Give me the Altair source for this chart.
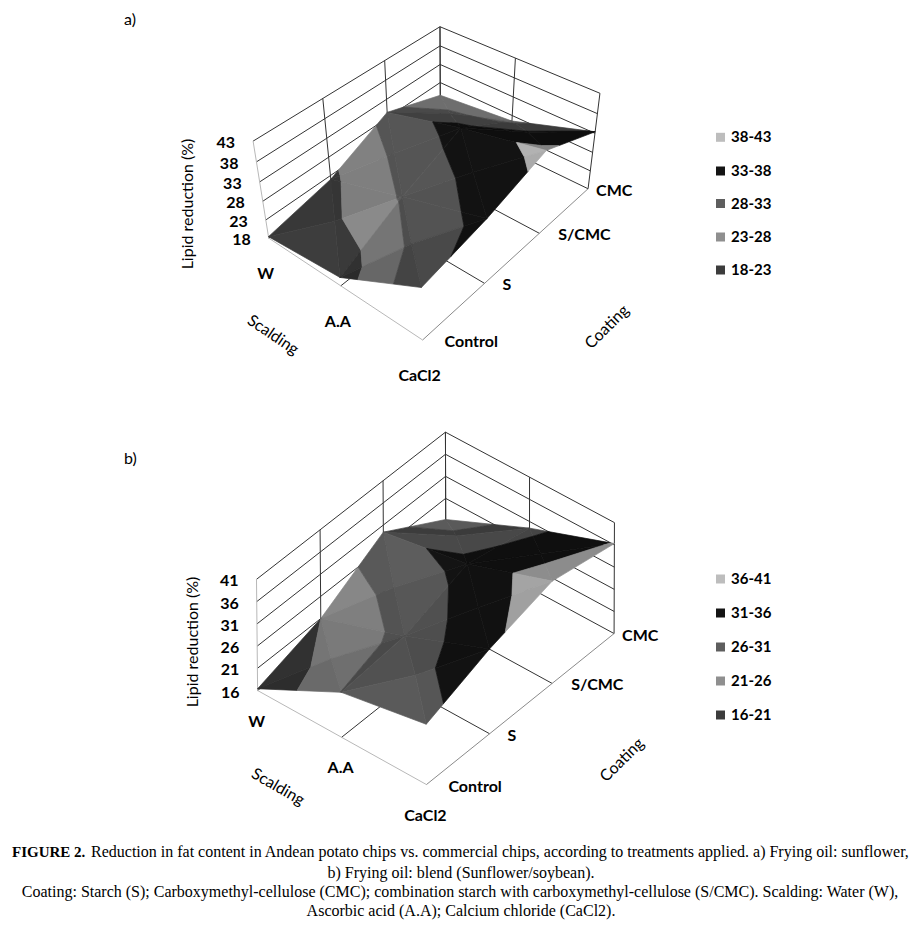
import numpy as np
import pandas as pd
import altair as alt

# ---------------------------------------------------------------- data
scalding = ["W", "A.A", "CaCl2"]
coating = ["Control", "S", "S/CMC", "CMC"]

# a) Frying oil: sunflower  -- lipid reduction (%) per scalding row, coating columns
lipid_a_W = [18.4, 22.0, 29.5, 24.4]
lipid_a_AA = [20.3, 28.5, 35.0, 26.5]
lipid_a_CaCl2 = [31.6, 34.8, 39.5, 33.4]
ticks_a = [18, 23, 28, 33, 38, 43]
bands_a = ["18-23", "23-28", "28-33", "33-38", "38-43"]

# b) Frying oil: blend (Sunflower/soybean)
lipid_b_W = [16.4, 21.0, 29.4, 21.2]
lipid_b_AA = [26.1, 27.5, 32.5, 29.5]
lipid_b_CaCl2 = [29.5, 35.0, 39.0, 36.3]
ticks_b = [16, 21, 26, 31, 36, 41]
bands_b = ["16-21", "21-26", "26-31", "31-36", "36-41"]

band_colors = ["#3c3c3c", "#8f8f8f", "#5e5e5e", "#141414", "#bdbdbd"]  # low -> high

caption_head = "FIGURE 2."
caption_1 = ("Reduction in fat content in Andean potato chips vs. commercial chips, "
             "according to treatments applied.  a) Frying oil: sunflower,")
caption_2 = "b) Frying oil: blend (Sunflower/soybean)."
caption_3 = ("Coating: Starch (S); Carboxymethyl-cellulose (CMC); combination starch with "
             "carboxymethyl-cellulose (S/CMC). Scalding: Water (W),")
caption_4 = "Ascorbic acid (A.A); Calcium chloride (CaCl2)."

# ---------------------------------------------------------------- layout (3-D box anchors in page px)
# (coating index, scalding index, value) -> page position of the box corners / gridlines
anchors_a = [((0, 0, 18), (268.3, 237.3)), ((0, 0, 43), (252.7, 141.7)), ((1, 0, 43), (323.3, 98.0)),
             ((2, 0, 43), (385.0, 60.0)), ((3, 0, 43), (440.0, 26.7)), ((3, 0, 28), (440.0, 83.3)),
             ((3, 1, 43), (515.0, 58.3)), ((3, 2, 43), (600.0, 93.3)), ((3, 2, 18), (589.3, 188.3)),
             ((0, 2, 18), (423.3, 340.0)), ((1, 2, 18), (483.3, 283.3)), ((2, 2, 18), (538.3, 233.3)),
             ((0, 1, 18), (341.7, 286.7))]
anchors_b = [((0, 0, 16), (257.3, 690.0)), ((0, 0, 41), (256.0, 580.0)), ((1, 0, 41), (320.0, 529.7)),
             ((2, 0, 41), (383.3, 480.0)), ((3, 0, 41), (445.0, 433.5)), ((3, 0, 26), (445.0, 497.5)),
             ((3, 1, 41), (531.7, 478.0)), ((3, 2, 41), (613.3, 521.0)), ((3, 2, 16), (613.3, 633.3)),
             ((0, 2, 16), (425.3, 783.3)), ((1, 2, 16), (490.0, 736.0)), ((2, 2, 16), (553.0, 684.0)),
             ((0, 1, 16), (343.0, 737.0))]

FONT = "Lato"
PROJ = dict(type="identity", scale=1, translate=[-8, -8])


def fit_camera(anchors, zmin):
    W = np.array([[j, i, (z - zmin) / 10.0] for (j, i, z), _ in anchors], float)
    S = np.array([s for _, s in anchors], float)
    sm = S.mean(0)
    ss = np.sqrt(((S - sm) ** 2).sum(1).mean())
    wm = W.mean(0)
    ws = np.sqrt(((W - wm) ** 2).sum(1).mean())
    Sn = (S - sm) / ss
    Wn = (W - wm) / ws
    rows = []
    for (X, Y, Z), (u, v) in zip(Wn, Sn):
        rows.append([X, Y, Z, 1, 0, 0, 0, 0, -u * X, -u * Y, -u * Z, -u])
        rows.append([0, 0, 0, 0, X, Y, Z, 1, -v * X, -v * Y, -v * Z, -v])
    P = np.linalg.svd(np.array(rows))[2][-1].reshape(3, 4)

    def proj(j, i, z):
        p = (np.array([j, i, (z - zmin) / 10.0]) - wm) / ws
        h = P @ np.append(p, 1.0)
        q = sm + ss * h[:2] / h[2]
        return float(q[0]), float(q[1])

    return proj


def clip_band(poly, lo, hi):
    def clip(pts, keep, edge):
        out = []
        n = len(pts)
        for k in range(n):
            A, B = pts[k], pts[(k + 1) % n]
            ia, ib = keep(A[2]), keep(B[2])
            if ia:
                out.append(A)
            if ia != ib:
                t = (edge - A[2]) / (B[2] - A[2])
                out.append(tuple(A[m] + t * (B[m] - A[m]) for m in range(3)))
        return out
    p = clip(poly, lambda z: z >= lo, lo)
    if len(p) < 3:
        return []
    p = clip(p, lambda z: z <= hi, hi)
    return p if len(p) >= 3 else []


LIGHT = np.array([-0.45, 0.55, 1.0])
LIGHT = LIGHT / np.linalg.norm(LIGHT)
SZ = 0.06


def shade(hexcol, tri):
    A, B, C = [np.array([p[0], p[1], p[2] * SZ]) for p in tri]
    n = np.cross(B - A, C - A)
    n = n / np.linalg.norm(n)
    if n[2] < 0:
        n = -n
    f = 1.0 + 0.9 * (float(n @ LIGHT) - LIGHT[2])
    rgb = [int(hexcol[k:k + 2], 16) for k in (1, 3, 5)]
    rgb = [int(max(0, min(255, round(c * f)))) for c in rgb]
    return "#%02x%02x%02x" % tuple(rgb)


def surface_features(rows, ticks, proj):
    zmin = ticks[0]
    g = rows
    tris = []
    for i in range(len(g) - 1):
        for j in range(len(g[0]) - 1):
            c = [(j, i, g[i][j]), (j + 1, i, g[i][j + 1]), (j + 1, i + 1, g[i + 1][j + 1]), (j, i + 1, g[i + 1][j])]
            ctr = (j + 0.5, i + 0.5, float(np.mean([p[2] for p in c])))
            for k in range(4):
                tris.append([c[k], c[(k + 1) % 4], ctr])
    tris.sort(key=lambda t: proj(np.mean([p[0] for p in t]), np.mean([p[1] for p in t]), zmin)[1])
    feats = []
    nb = len(ticks) - 1
    for t in tris:
        for b in range(nb):
            lo = ticks[b] if b > 0 else -1e9
            hi = ticks[b + 1] if b < nb - 1 else 1e9
            poly = clip_band(t, lo, hi)
            if not poly:
                continue
            ring = [[round(x, 2), round(y, 2)] for x, y in (proj(*p) for p in poly)]
            ring.append(ring[0])
            feats.append({"type": "Feature", "properties": {"fill": shade(band_colors[b], t)},
                          "geometry": {"type": "Polygon", "coordinates": [ring]}})
    return feats


def box_features(ticks, proj):
    zmin, zmax = ticks[0], ticks[-1]
    dark, mid, light = "#333333", "#8a8a8a", "#b8b8b8"
    segs = []
    for z in ticks:
        segs.append(((0, 0, z), (3, 0, z), dark))
        segs.append(((3, 0, z), (3, 2, z), dark))
    for j in range(4):
        segs.append(((j, 0, zmin), (j, 0, zmax), light if j == 0 else dark))
    for i in range(3):
        segs.append(((3, i, zmin), (3, i, zmax), dark))
    segs.append(((0, 1, zmin), (3, 1, zmin), dark))
    segs.append(((1, 0, zmin), (1, 2, zmin), dark))
    segs.append(((2, 0, zmin), (2, 2, zmin), dark))
    segs.append(((0, 0, zmin), (0, 2, zmin), light))
    segs.append(((0, 2, zmin), (3, 2, zmin), mid))
    feats = []
    for a, b, col in segs:
        pa, pb = proj(*a), proj(*b)
        feats.append({"type": "Feature", "properties": {"stroke": col, "width": 1.0},
                      "geometry": {"type": "LineString",
                                   "coordinates": [[round(pa[0], 2), round(pa[1], 2)],
                                                   [round(pb[0], 2), round(pb[1], 2)]]}})
    return feats


def line_layer(feats):
    return alt.Chart(alt.Data(values=feats)).mark_geoshape(filled=False).encode(
        stroke=alt.Stroke("properties.stroke:N", scale=None),
        strokeWidth=alt.StrokeWidth("properties.width:Q", scale=None),
    ).project(**PROJ)


def poly_layer(feats):
    return alt.Chart(alt.Data(values=feats)).mark_geoshape(strokeWidth=0.7, strokeJoin="round").encode(
        fill=alt.Fill("properties.fill:N", scale=None),
        stroke=alt.Stroke("properties.fill:N", scale=None),
    ).project(**PROJ)


def text_layer(records, **kw):
    df = pd.DataFrame(records, columns=["x", "y", "t"])
    return alt.Chart(df).mark_text(**kw).encode(
        longitude="x:Q", latitude="y:Q", text="t:N").project(**PROJ)


COAT_DX = [22, 18, 19, 8]


def panel(rows, ticks, bands, anchors, cfg):
    proj = fit_camera(anchors, ticks[0])
    zmin = ticks[0]
    layers = [line_layer(box_features(ticks, proj)), poly_layer(surface_features(rows, ticks, proj))]
    # value tick labels
    tl = []
    for z in ticks:
        x, y = proj(0, 0, z)
        tl.append((x - 18, y + 2, str(z)))
    layers.append(text_layer(tl, font=FONT, fontSize=16, fontWeight="bold", align="right",
                             baseline="middle", color="black"))
    # category labels
    cl = []
    for i, s in enumerate(scalding):
        x, y = proj(0, i, zmin)
        cl.append((x + cfg["sdx"], y + cfg["sdy"], s))
    layers.append(text_layer(cl, font=FONT, fontSize=16, fontWeight="bold", align="center",
                             baseline="middle", color="black"))
    ql = []
    for j, c in enumerate(coating):
        x, y = proj(j, 2, zmin)
        ql.append((x + COAT_DX[j], y + 2, c))
    layers.append(text_layer(ql, font=FONT, fontSize=16, fontWeight="bold", align="left",
                             baseline="middle", color="black"))
    # axis titles
    layers.append(text_layer([cfg["ztitle"]], font=FONT, fontSize=16, angle=270, align="center",
                             baseline="middle", color="black"))
    layers.append(text_layer([cfg["stitle"]], font=FONT, fontSize=16, angle=cfg["sang"], align="center",
                             baseline="middle", color="black"))
    layers.append(text_layer([cfg["ctitle"]], font=FONT, fontSize=16, angle=315, align="center",
                             baseline="middle", color="black"))
    layers.append(text_layer([cfg["tag"]], font=FONT, fontSize=16, align="left",
                             baseline="middle", color="black"))
    # legend (highest band on top)
    ly = cfg["legend_y"]
    leg = pd.DataFrame({"x": [720.5] * 5, "y": ly, "c": band_colors[::-1]})
    layers.append(alt.Chart(leg).mark_square(size=81, opacity=1).encode(
        longitude="x:Q", latitude="y:Q", color=alt.Color("c:N", scale=None)).project(**PROJ))
    layers.append(text_layer([(731, y, b) for y, b in zip(ly, bands[::-1])], font=FONT, fontSize=15,
                             fontWeight="bold", align="left", baseline="middle", color="black"))
    return layers


cfg_a = dict(sdx=-3, sdy=36, sang=34,
             ztitle=(188, 204, "Lipid  reduction (%)"),
             stitle=(273, 335, "Scalding"), ctitle=(607, 327, "Coating"),
             tag=(124, 20, "a)"), legend_y=[137.3, 171.0, 203.5, 237.0, 270.0])
cfg_b = dict(sdx=-1, sdy=31, sang=30,
             ztitle=(193, 642, "Lipid reduction (%)"),
             stitle=(278, 787, "Scalding"), ctitle=(622, 760, "Coating"),
             tag=(124, 459, "b)"), legend_y=[579.0, 613.0, 647.0, 681.0, 715.0])

layers = []
layers += panel([lipid_a_W, lipid_a_AA, lipid_a_CaCl2], ticks_a, bands_a, anchors_a, cfg_a)
layers += panel([lipid_b_W, lipid_b_AA, lipid_b_CaCl2], ticks_b, bands_b, anchors_b, cfg_b)

SERIF = "Liberation Serif"
layers.append(text_layer([(12, 852, caption_head)], font=SERIF, fontSize=15, fontWeight="bold",
                         align="left", baseline="middle", color="black"))
layers.append(text_layer([(91, 852, caption_1)], font=SERIF, fontSize=16,
                         align="left", baseline="middle", color="black"))
layers.append(text_layer([(461, 873, caption_2), (460, 892, caption_3), (461, 911, caption_4)],
                         font=SERIF, fontSize=16, align="center", baseline="middle", color="black"))

chart = alt.layer(*layers).properties(
    width=902, height=922, padding=0,
    autosize=alt.AutoSizeParams(type="none"), background="white",
).configure_view(stroke=None)

chart.save("out.html", embed_options={"renderer": "svg", "actions": False})
